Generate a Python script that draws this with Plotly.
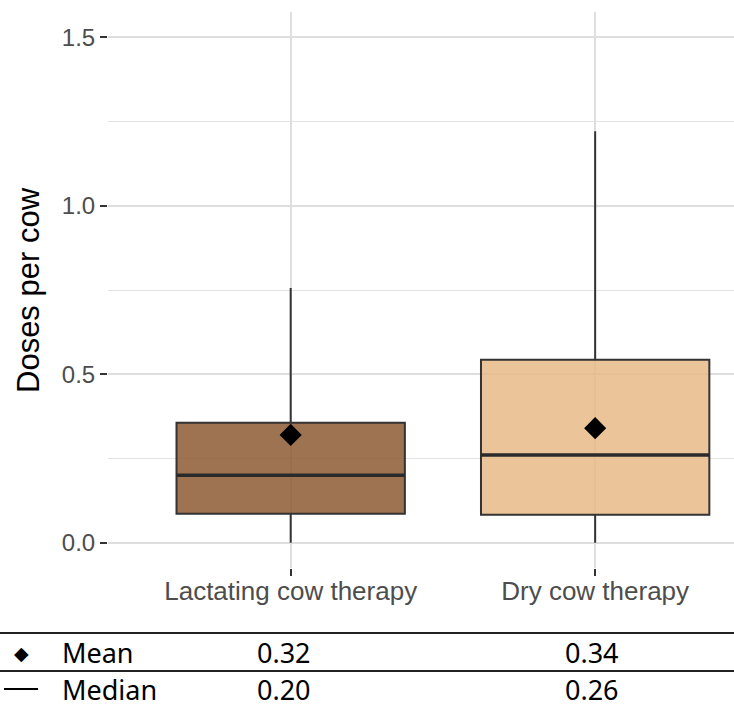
import plotly.graph_objects as go

# ---- data ----
categories = ["Lactating cow therapy", "Dry cow therapy"]
q1 = [0.086, 0.083]
median = [0.20, 0.26]
q3 = [0.356, 0.543]
lower_fence = [0.0, 0.0]
upper_fence = [0.756, 1.221]
mean = [0.32, 0.34]
y_ticks = [0.0, 0.5, 1.0, 1.5]
fill_colors = ["rgba(140,90,50,0.85)", "rgba(232,186,135,0.85)"]

W, H = 734, 707
ML, MR, MT, MB = 108, 0, 12, 139
PW, PH = W - ML - MR, H - MT - MB
box_width = 0.75


def px_x(px):
    return (px - ML) / PW


def px_y(py):
    return (H - MB - py) / PH


fig = go.Figure()
xpos = list(range(len(categories)))
for i, cat in enumerate(categories):
    fig.add_trace(go.Box(
        x=[xpos[i]], q1=[q1[i]], median=[median[i]], q3=[q3[i]],
        lowerfence=[lower_fence[i]], upperfence=[upper_fence[i]],
        width=box_width, whiskerwidth=0,
        fillcolor=fill_colors[i],
        line=dict(color="#333333", width=2),
        showlegend=False, hoverinfo="skip", boxpoints=False,
    ))
    # thicker median line
    fig.add_trace(go.Scatter(
        x=[xpos[i] - box_width / 2, xpos[i] + box_width / 2],
        y=[median[i], median[i]], mode="lines",
        line=dict(color="#2a2a2a", width=3.5), showlegend=False, hoverinfo="skip",
    ))

fig.add_trace(go.Scatter(
    x=xpos, y=mean, mode="markers",
    marker=dict(symbol="diamond", size=17, color="black"),
    showlegend=False, hoverinfo="skip",
))

fig.update_layout(
    width=W, height=H,
    margin=dict(l=ML, r=MR, t=MT, b=MB),
    paper_bgcolor="white", plot_bgcolor="white",
    font=dict(family="Liberation Sans, Arial, sans-serif", color="#4d4d4d"),
)
fig.update_xaxes(
    range=[-0.6, 1.456], tickvals=xpos, ticktext=categories,
    showgrid=True, gridcolor="#dedede", gridwidth=1.6,
    ticks="outside", ticklen=7, tickcolor="#333333", tickwidth=1.5,
    ticklabelstandoff=-7,
    tickfont=dict(size=26, color="#4d4d4d"), zeroline=False, showline=False,
)
fig.update_yaxes(
    range=[-0.075, 1.575], tickvals=y_ticks,
    ticktext=[f"{v:.1f}" for v in y_ticks],
    showgrid=True, gridcolor="#dedede", gridwidth=1.6,
    minor=dict(tickvals=[0.25, 0.75, 1.25], showgrid=True, gridcolor="#e3e3e3", gridwidth=1.4, ticks=""),
    ticks="outside", ticklen=7, tickcolor="#333333", tickwidth=1.5,
    tickfont=dict(size=24, color="#4d4d4d"), zeroline=False, showline=False,
)

# y-axis title
fig.add_annotation(
    text="Doses per cow", xref="paper", yref="paper",
    x=px_x(28), y=0.5, textangle=-90, showarrow=False,
    xanchor="center", yanchor="middle",
    font=dict(size=31, color="black", family="Liberation Sans, Arial, sans-serif"),
)

# ---- table below ----
tfont = dict(size=27, color="black", family="Noto Sans, Open Sans, sans-serif")
for py in [633, 671]:
    fig.add_shape(type="line", xref="paper", yref="paper",
                  x0=px_x(0), x1=px_x(W), y0=px_y(py), y1=px_y(py),
                  line=dict(color="#222222", width=2.2))

rows = [("Mean", mean, 652), ("Median", median, 689)]
for label, vals, py in rows:
    fig.add_annotation(text=label, xref="paper", yref="paper",
                       x=px_x(60), y=px_y(py), xanchor="left", yanchor="middle",
                       showarrow=False, font=tfont)
    for i, v in enumerate(vals):
        cx = [284, 592][i]
        fig.add_annotation(text=f"{v:.2f}", xref="paper", yref="paper",
                           x=px_x(cx), y=px_y(py), xanchor="center", yanchor="middle",
                           showarrow=False, font=tfont)

# legend glyphs in table
fig.add_annotation(text="◆", xref="paper", yref="paper",
                   x=px_x(21), y=px_y(653), xanchor="center", yanchor="middle",
                   showarrow=False, font=dict(size=19, color="black"))
fig.add_shape(type="line", xref="paper", yref="paper",
              x0=px_x(4), x1=px_x(38), y0=px_y(689), y1=px_y(689),
              line=dict(color="black", width=1.8))

fig.write_html("out.html", config={"displayModeBar": False},
               post_script="document.body.style.margin='0';document.body.style.padding='0';")
